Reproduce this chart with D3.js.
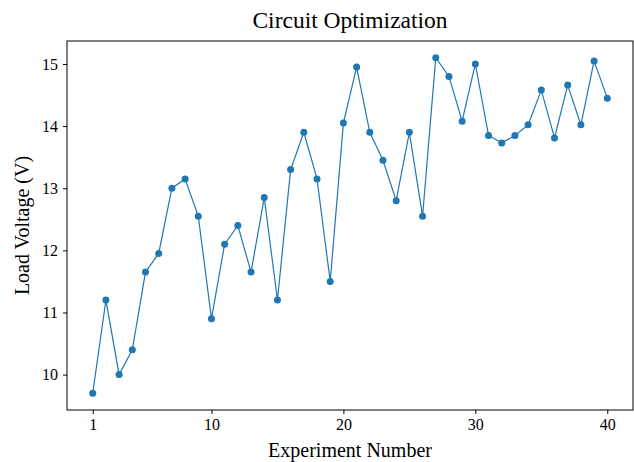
<!DOCTYPE html>
<html>
<head>
<meta charset="utf-8">
<script src="https://d3js.org/d3.v7.min.js"></script>
<style>
  body { margin: 0; background: #fff; }
  text { font-family: "Liberation Serif", "DejaVu Serif", serif; fill: #000; }
</style>
</head>
<body>
<script>
var experiments = d3.range(1, 41);
var voltages = [9.7, 11.2, 10.0, 10.4, 11.65, 11.95, 13.0, 13.15, 12.55, 10.9,
                12.1, 12.4, 11.65, 12.85, 11.2, 13.3, 13.9, 13.15, 11.5, 14.05,
                14.95, 13.9, 13.45, 12.8, 13.9, 12.55, 15.1, 14.8, 14.08, 15.0,
                13.85, 13.73, 13.85, 14.02, 14.58, 13.81, 14.66, 14.02, 15.05, 14.45];
var xTicks = [1, 10, 20, 30, 40];
var yTicks = [10, 11, 12, 13, 14, 15];

var width = 634, height = 462;
var margin = {top: 41, right: 1, bottom: 52, left: 67};

var svg = d3.select("body").append("svg")
    .attr("width", width)
    .attr("height", height);

var xPad = (d3.max(experiments) - d3.min(experiments)) * 0.05;
var yPad = (d3.max(voltages) - d3.min(voltages)) * 0.05;

var x = d3.scaleLinear()
    .domain([d3.min(experiments) - xPad, d3.max(experiments) + xPad])
    .range([margin.left, width - margin.right]);
var y = d3.scaleLinear()
    .domain([d3.min(voltages) - yPad, d3.max(voltages) + yPad])
    .range([height - margin.bottom, margin.top]);

var data = d3.zip(experiments, voltages);

svg.append("g")
    .attr("transform", "translate(0," + (height - margin.bottom) + ")")
    .call(d3.axisBottom(x).tickValues(xTicks).tickFormat(d3.format("d"))
        .tickSize(4).tickPadding(5).tickSizeOuter(0))
    .call(g => g.selectAll("text").style("font-size", "16px"));

svg.append("g")
    .attr("transform", "translate(" + margin.left + ",0)")
    .call(d3.axisLeft(y).tickValues(yTicks).tickFormat(d3.format("d"))
        .tickSize(4).tickPadding(5).tickSizeOuter(0))
    .call(g => g.selectAll("text").style("font-size", "16px"));

svg.selectAll(".domain").remove();
svg.append("rect")
    .attr("x", margin.left)
    .attr("y", margin.top)
    .attr("width", width - margin.right - margin.left)
    .attr("height", height - margin.bottom - margin.top)
    .attr("fill", "none")
    .attr("stroke", "#000")
    .attr("stroke-width", 1);

svg.append("path")
    .datum(data)
    .attr("fill", "none")
    .attr("stroke", "#1f77b4")
    .attr("stroke-width", 1.2)
    .attr("d", d3.line().x(d => x(d[0])).y(d => y(d[1])));

svg.selectAll("circle.pt")
    .data(data)
    .enter().append("circle")
    .attr("class", "pt")
    .attr("cx", d => x(d[0]))
    .attr("cy", d => y(d[1]))
    .attr("r", 3.5)
    .attr("fill", "#1f77b4");

svg.append("text")
    .attr("x", (margin.left + width - margin.right) / 2)
    .attr("y", 28)
    .attr("text-anchor", "middle")
    .style("font-size", "23.5px")
    .text("Circuit Optimization");

svg.append("text")
    .attr("x", (margin.left + width - margin.right) / 2)
    .attr("y", 457)
    .attr("text-anchor", "middle")
    .style("font-size", "20px")
    .text("Experiment Number");

svg.append("text")
    .attr("transform", "translate(29," + ((margin.top + height - margin.bottom) / 2) + ") rotate(-90)")
    .attr("text-anchor", "middle")
    .style("font-size", "20px")
    .text("Load Voltage (V)");
</script>
</body>
</html>
